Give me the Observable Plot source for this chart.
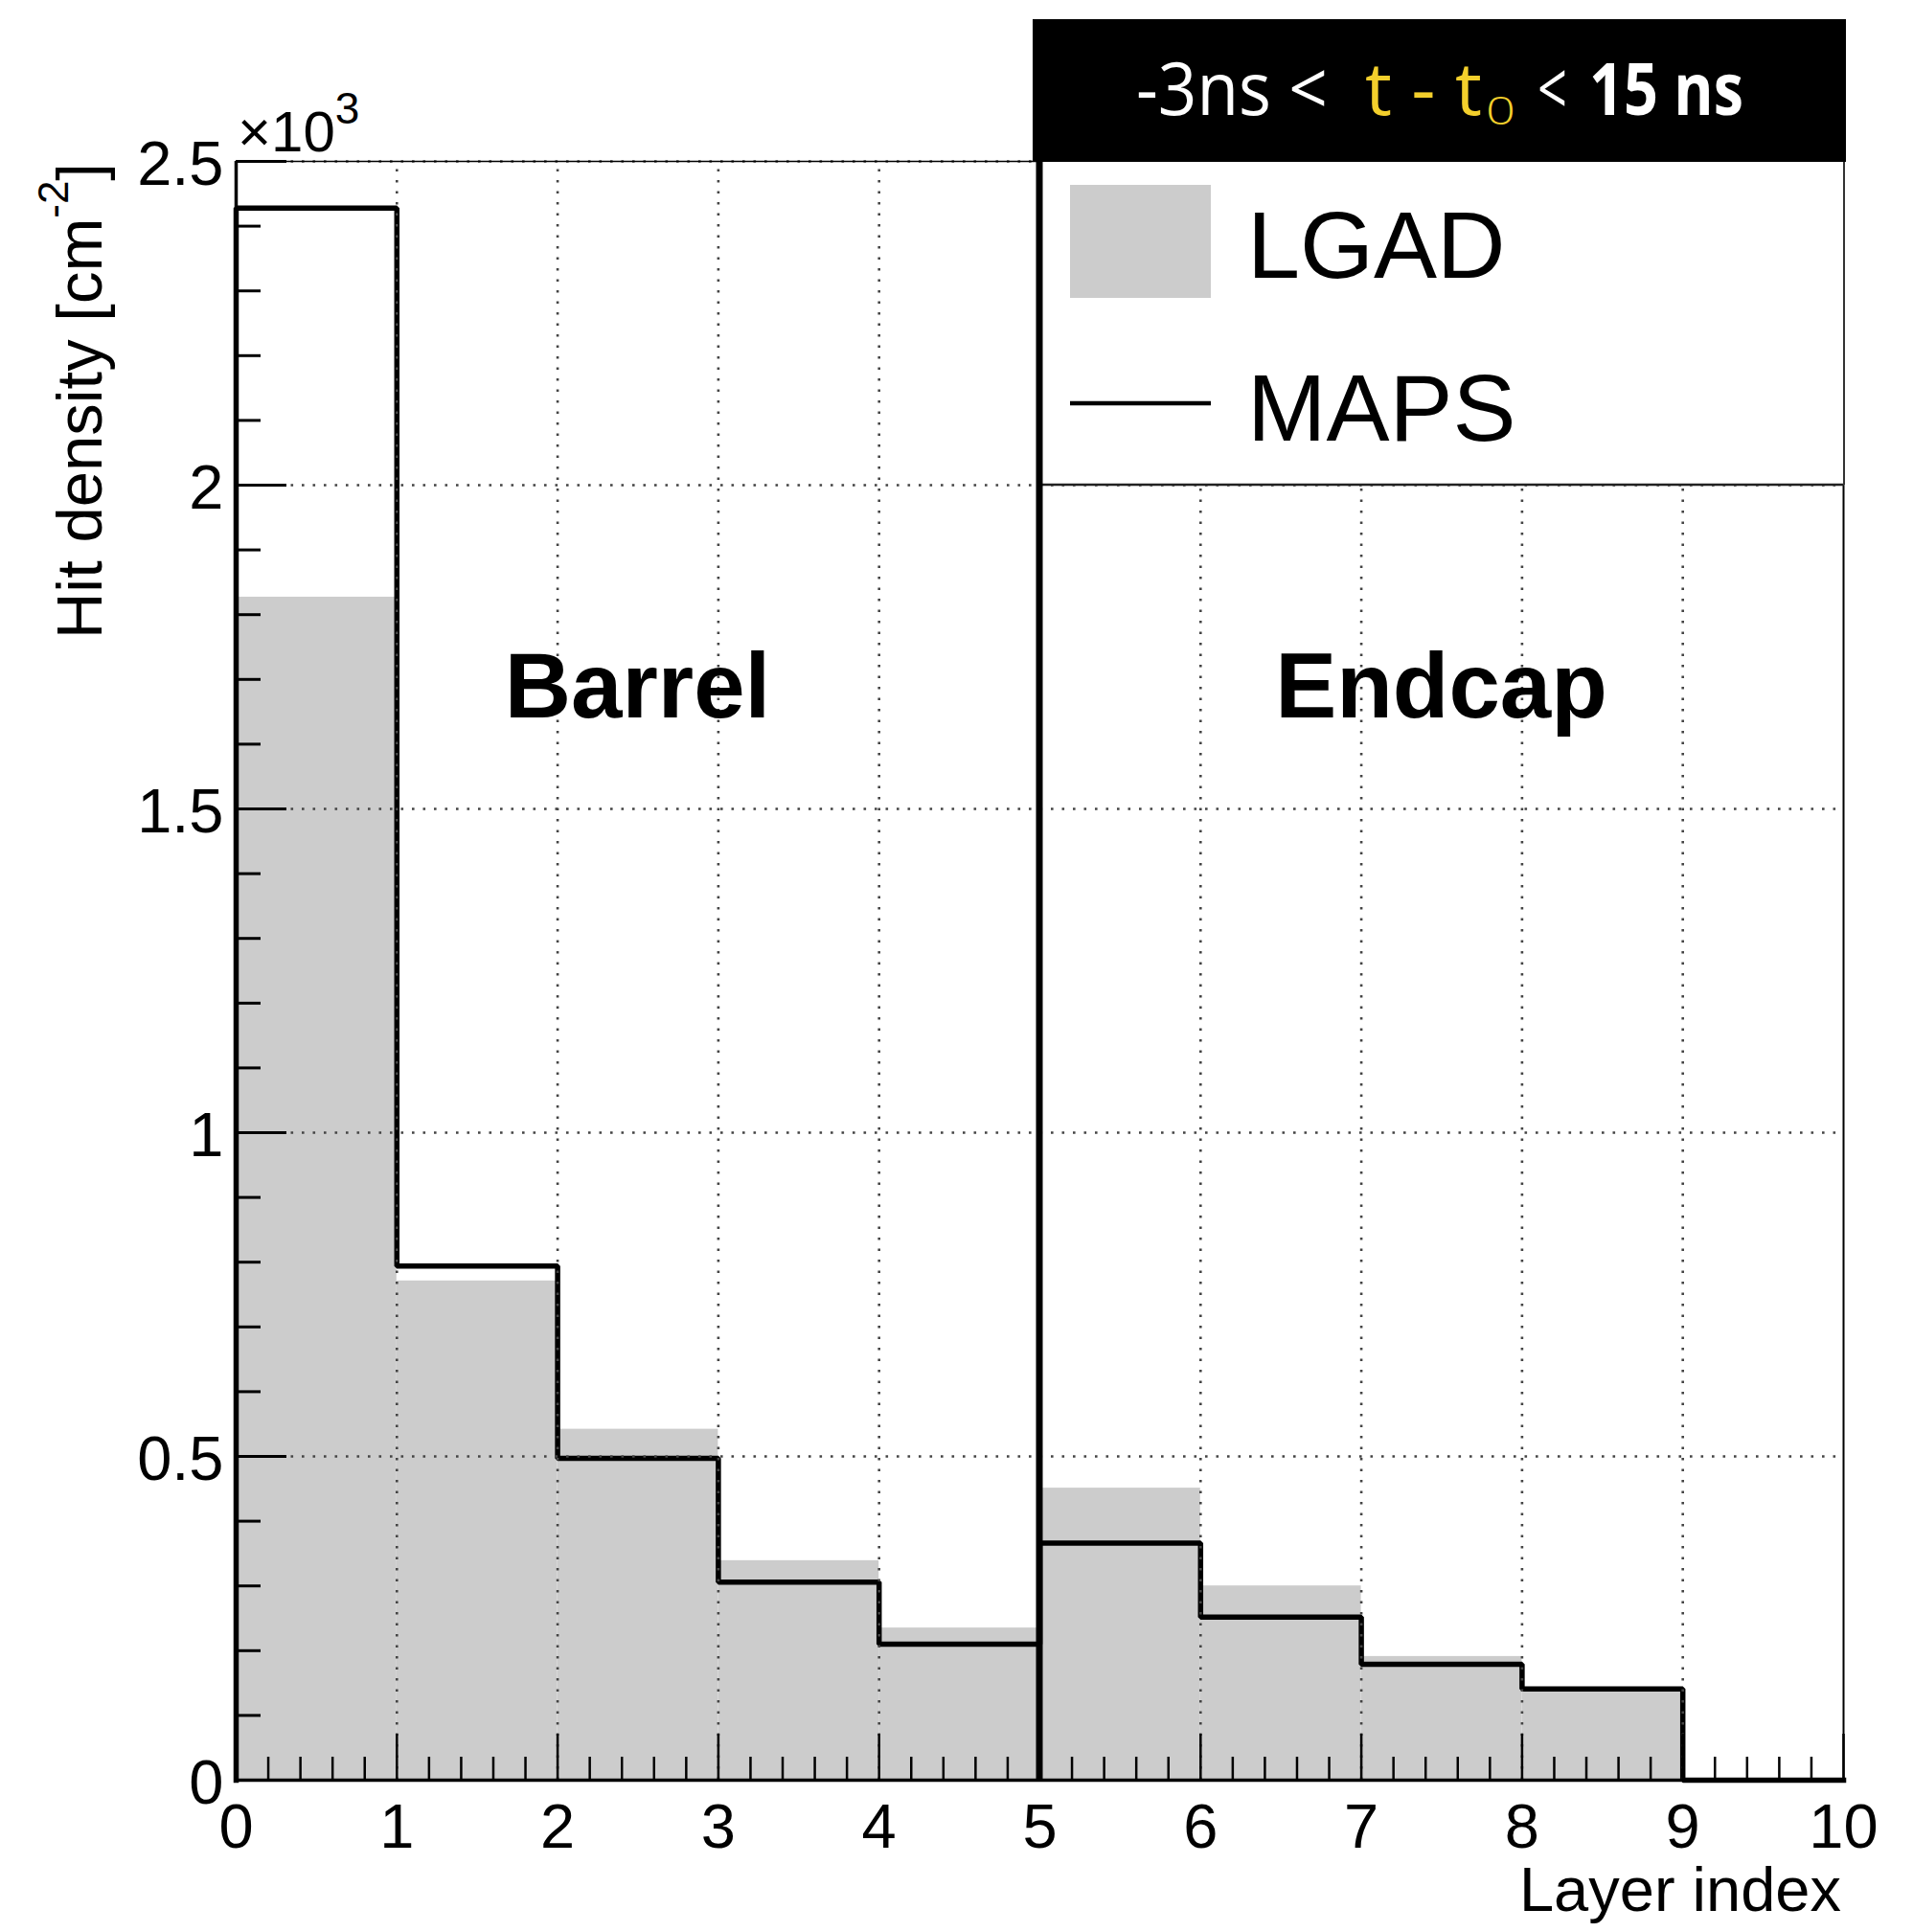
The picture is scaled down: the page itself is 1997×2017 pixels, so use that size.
<!DOCTYPE html>
<html>
<head>
<meta charset="utf-8">
<script src="https://cdn.jsdelivr.net/npm/d3@7"></script>
<script src="https://cdn.jsdelivr.net/npm/@observablehq/plot@0.6"></script>
<style>
html, body { margin: 0; padding: 0; background: #fff; }
</style>
</head>
<body>
<div id="chart"></div>
<script>
// ---- data ----
const layerIndex   = [0, 1, 2, 3, 4, 5, 6, 7, 8, 9];
const lgadDensity  = [1827, 771, 542, 339, 235, 451, 300, 191, 138, 0];
const mapsDensity  = [2428, 794, 497, 306, 210, 366, 252, 179, 141, 0];
const regionNames  = ["Barrel", "Endcap"];
const regionRanges = [[0, 5], [5, 10]];
const xTickValues  = [0, 1, 2, 3, 4, 5, 6, 7, 8, 9, 10];
const yTickValues  = [0, 500, 1000, 1500, 2000, 2500];
const legendLabels = ["LGAD", "MAPS"];
const titleParts   = ["-3ns <", "t - t", "0", "<", "15 ns"];

// ---- layout ----
const W = 1997, H = 2017;
const mL = 246, mR = 73, mT = 168, mB = 159;
const plotW = W - mL - mR, plotH = H - mT - mB;
const xMax = 10, yMax = 2500;
const pxX = xMax / plotW, pxY = yMax / plotH;
const FONT = "'Liberation Sans', Arial, Helvetica, sans-serif";
const GRID = {stroke: "#444", strokeWidth: 2.6, strokeDasharray: "2.6,8.9"};

const bins = layerIndex.map((l, i) => ({x1: l, x2: l + 1, lgad: lgadDensity[i]}));
const steps = [{x: layerIndex[0], y: 0}]
  .concat(layerIndex.map((l, i) => ({x: l, y: mapsDensity[i]})))
  .concat([{x: layerIndex[layerIndex.length - 1] + 1, y: mapsDensity[mapsDensity.length - 1]}]);

const yMinor = d3.range(0, yMax + 1, 100).filter(v => v % 500 !== 0);
const xMinor = d3.range(0, 51).filter(i => i % 5 !== 0).map(i => i / 5);

const chart = Plot.plot({
  width: W, height: H,
  marginLeft: mL, marginRight: mR, marginTop: mT, marginBottom: mB,
  x: {domain: [0, xMax], label: null},
  y: {domain: [0, yMax], label: null},
  style: {fontFamily: FONT, background: "white", color: "black"},
  marks: [
    Plot.rectY(bins, {x1: "x1", x2: "x2", y: "lgad", fill: "#cccccc"}),
    Plot.line(steps, {x: "x", y: "y", curve: "step-after", stroke: "black", strokeWidth: 5.5, strokeLinejoin: "miter", strokeLinecap: "square"}),
    // grid
    Plot.ruleX(xTickValues.slice(1, -1), {y1: 0, y2: yMax, ...GRID}),
    Plot.ruleY(yTickValues.slice(1), {x1: 0, x2: xMax, ...GRID}),
    // inward ticks
    Plot.ruleY(yTickValues, {x1: 0, x2: 53 * pxX, stroke: "black", strokeWidth: 3}),
    Plot.ruleY(yMinor, {x1: 0, x2: 26 * pxX, stroke: "black", strokeWidth: 3}),
    Plot.ruleX(xTickValues, {y1: 0, y2: 48 * pxY, stroke: "black", strokeWidth: 2.5}),
    Plot.ruleX(xMinor, {y1: 0, y2: 24 * pxY, stroke: "black", strokeWidth: 2.5}),
    // frame
    Plot.ruleY([yMax], {x1: 0, x2: xMax, stroke: "black", strokeWidth: 1.5}),
    Plot.ruleX([xMax], {y1: 0, y2: yMax, stroke: "black", strokeWidth: 2}),
    Plot.ruleX([0], {y1: 0, y2: yMax, stroke: "black", strokeWidth: 3.5}),
    Plot.ruleY([0], {x1: 0, x2: xMax, stroke: "black", strokeWidth: 3.5}),
    // tick labels
    Plot.axisX(xTickValues, {tickSize: 0, tickPadding: 24, fontSize: 65, tickFormat: d => String(d), label: null}),
    Plot.axisY(yTickValues, {tickSize: 0, tickPadding: 13, fontSize: 65, dy: 4, tickFormat: d => String(d / 1000), label: null})
  ]
});
document.getElementById("chart").appendChild(chart);

const xs = v => chart.scale("x").apply(v);
const ys = v => chart.scale("y").apply(v);
const svg = d3.select(chart);

// ---- legend box (x 5..10, above y = 2000) ----
const lx1 = xs(regionRanges[1][0]), lx2 = xs(regionRanges[1][1]);
const ly1 = ys(yMax), ly2 = ys(2000);
svg.append("rect").attr("x", lx1).attr("y", ly1).attr("width", lx2 - lx1).attr("height", ly2 - ly1)
  .attr("fill", "white");
svg.append("line").attr("x1", lx1).attr("x2", lx2 + 1).attr("y1", ly2).attr("y2", ly2)
  .attr("stroke", "#222").attr("stroke-width", 2.5);
svg.append("line").attr("x1", lx2 + 1).attr("x2", lx2 + 1).attr("y1", ly1).attr("y2", ly2)
  .attr("stroke", "#333").attr("stroke-width", 2);

// black title box
const bx1 = lx1 - 7, bx2 = lx2 + 3, by1 = 20;
svg.append("rect").attr("x", bx1).attr("y", by1).attr("width", bx2 - bx1).attr("height", ly1 - by1 + 1)
  .attr("fill", "black");

// separator at x = 5
svg.append("line").attr("x1", lx1).attr("x2", lx1).attr("y1", ly1).attr("y2", ys(0))
  .attr("stroke", "black").attr("stroke-width", 7);

// title text, segment by segment (offsets relative to the box's left edge)
const YEL = "#f3cf2c";
const titleStyle = [
  {dx: 108, len: 200, fill: "white", size: 76, weight: 500, y: 120},
  {dx: 347, len: 122, fill: YEL,     size: 76, weight: 500, y: 120},
  {dx: 473, len: 31,  fill: YEL,     size: 40, weight: 300, y: 130},
  {dx: 527, len: 31,  fill: "white", size: 76, weight: 500, y: 120},
  {dx: 581, len: 161, fill: "white", size: 76, weight: 700, y: 120}
];
titleParts.forEach((txt, i) => {
  const s = titleStyle[i];
  svg.append("text")
    .attr("x", bx1 + s.dx).attr("y", s.y)
    .attr("text-anchor", "start")
    .attr("font-family", "'Open Sans', 'Noto Sans', sans-serif")
    .attr("font-size", s.size).attr("font-weight", s.weight).attr("fill", s.fill)
    .attr("textLength", s.len).attr("lengthAdjust", "spacingAndGlyphs")
    .style("white-space", "pre")
    .text(txt);
});

// legend entries
svg.append("rect").attr("x", lx1 + 32).attr("y", ly1 + 25).attr("width", 147).attr("height", 118)
  .attr("fill", "#cccccc");
svg.append("line").attr("x1", lx1 + 32).attr("x2", lx1 + 179).attr("y1", 421).attr("y2", 421)
  .attr("stroke", "black").attr("stroke-width", 4.5);
[[legendLabels[0], 290], [legendLabels[1], 460]].forEach(([lab, yb]) => {
  svg.append("text").attr("x", lx1 + 217).attr("y", yb).attr("text-anchor", "start")
    .attr("font-family", FONT).attr("font-size", 99).attr("fill", "black").text(lab);
});

// region labels
regionNames.forEach((name, i) => {
  svg.append("text")
    .attr("x", xs((regionRanges[i][0] + regionRanges[i][1]) / 2))
    .attr("y", ys(1640))
    .attr("text-anchor", "middle")
    .attr("font-family", FONT).attr("font-weight", "bold").attr("font-size", 96)
    .text(name);
});

// axis titles
svg.append("text").attr("x", xs(xMax) - 2).attr("y", 1995).attr("text-anchor", "end")
  .attr("font-family", FONT).attr("font-size", 65).text("Layer index");

const yl = svg.append("text")
  .attr("transform", `translate(106,${ys(yMax) + 2}) rotate(-90)`)
  .attr("text-anchor", "end")
  .attr("font-family", FONT).attr("font-size", 67);
yl.append("tspan").text("Hit density [cm");
yl.append("tspan").attr("font-size", 44).attr("dy", -35).text("-2");
yl.append("tspan").attr("dy", 35).text("]");

const ex = svg.append("text").attr("x", 248).attr("y", 158).attr("text-anchor", "start")
  .attr("font-family", FONT).attr("font-size", 60);
ex.append("tspan").text("\u00d710");
ex.append("tspan").attr("font-size", 46).attr("dy", -29).text("3");
</script>
</body>
</html>
